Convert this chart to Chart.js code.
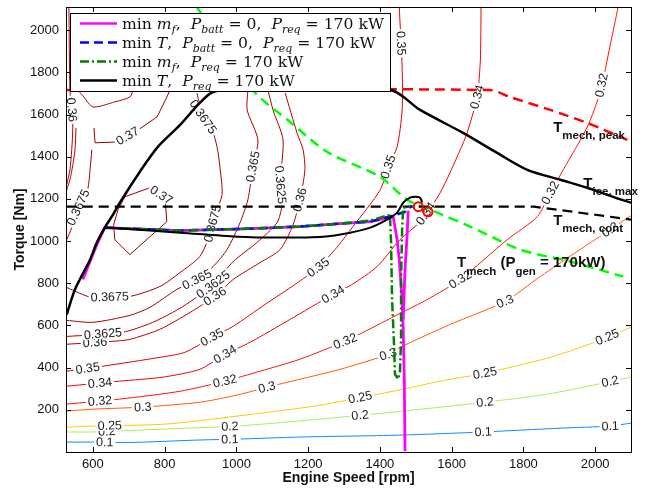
<!DOCTYPE html>
<html>
<head>
<meta charset="utf-8">
<script src="https://cdn.jsdelivr.net/npm/chart.js@4.4.0/dist/chart.umd.min.js"></script>
<style>
  html, body { margin: 0; padding: 0; background: #fff; }
  canvas { display: block; }
</style>
</head>
<body>
<canvas id="map" width="652" height="489"></canvas>
<script>
// axis ticks
const speedTicks = [600, 800, 1000, 1200, 1400, 1600, 1800, 2000];
const torqueTicks = [200, 400, 600, 800, 1000, 1200, 1400, 1600, 1800, 2000];

// efficiency contours, [rpm, Nm]
const eff_0100 = [[527,47],[600,47],[703,45],[898,57],[1002,61],[1177,71],[1456,80],[1688,95],[1903,113],[2042,123],[2100,137]];
const eff_0200 = [[527,95],[600,95],[800,109],[1000,123],[1233,156],[1465,194],[1693,236],[1866,274],[2006,321],[2100,355]];
const eff_0250 = [[527,118],[600,123],[800,132],[1000,170],[1233,222],[1465,298],[1568,336],[1693,374],[1875,449],[2006,525],[2100,591]];
const eff_0300 = [[527,194],[600,203],[739,213],[898,236],[1002,270],[1085,307],[1177,345],[1289,392],[1423,463],[1456,496],[1596,605],[1749,714],[1847,832],[1958,960],[2042,1054],[2100,1121]];
const eff_0320 = [[527,227],[675,251],[843,288],[968,336],[1066,383],[1177,440],[1303,525],[1353,567],[1456,657],[1532,723],[1624,818],[1755,1007],[1839,1116],[1875,1229],[1911,1338],[1978,1541],[2014,1707],[2042,1929],[2064,2109]];
const eff_0340 = [[527,312],[675,336],[795,355],[898,392],[968,463],[1038,520],[1150,629],[1269,747],[1322,794],[1392,879],[1456,1007],[1512,1092],[1568,1229],[1624,1433],[1643,1513],[1671,1683],[1680,1858],[1682,2109]];
const eff_0350 = [[527,383],[628,407],[787,449],[857,473],[932,544],[991,596],[1080,700],[1163,794],[1228,875],[1275,960],[1325,1069],[1401,1243],[1423,1352],[1448,1447],[1462,1622],[1462,1825],[1454,2109]];
const eff_0360 = [[527,511],[656,525],[703,534],[787,582],[871,662],[940,738],[991,818],[1066,898],[1122,960],[1158,1078],[1177,1196],[1191,1338],[1186,1433],[1169,1513],[1136,1702]];
const eff_0360L = [[527,1267],[536,1338],[541,1433],[544,1541],[541,1622],[536,1716],[533,2109]];
const eff_0360S = [[553,1537],[550,1433],[544,1362],[536,1291],[527,1243]];
const eff_03625 = [[527,548],[681,567],[767,615],[851,690],[935,794],[991,903],[1057,993],[1113,1087],[1127,1173],[1122,1281],[1130,1480],[1102,1622],[1088,1716]];
const eff_03625T = [[558,1716],[575,1683],[600,1636],[661,1660],[703,1683],[712,1716]];
const eff_0365 = [[527,624],[600,615],[703,648],[759,686],[834,771],[890,818],[935,879],[974,960],[1010,1087],[1032,1196],[1046,1352],[1060,1480],[1030,1622],[1032,1716]];
const eff_03675 = [[527,780],[597,733],[703,738],[787,785],[843,851],[898,927],[926,1031],[940,1125],[960,1220],[954,1352],[946,1447],[932,1527],[907,1589],[890,1702]];
const eff_03675L = [[527,1007],[541,1064],[555,1144],[572,1206],[586,1249],[592,1338],[597,1433]];
const eff_0370U = [[603,1537],[606,1466],[667,1470],[726,1527],[779,1589],[806,1683],[815,1716]];
const eff_0370I = [[689,1210],[759,1253],[801,1206],[806,1092],[703,936],[661,1007],[658,1078],[670,1149],[689,1210]];

// contour label spots: [text, line, rpm, Nm]
const contourLabels = [
  ['0.1', eff_0100, 633, 47], ['0.1', eff_0100, 982, 61], ['0.1', eff_0100, 1688, 95], ['0.1', eff_0100, 2042, 123],
  ['0.2', eff_0200, 639, 95], ['0.2', eff_0200, 982, 118], ['0.2', eff_0200, 1345, 170], ['0.2', eff_0200, 1693, 236], ['0.2', eff_0200, 2042, 331],
  ['0.25', eff_0250, 647, 125], ['0.25', eff_0250, 1345, 260], ['0.25', eff_0250, 1693, 374], ['0.25', eff_0250, 2034, 544],
  ['0.3', eff_0300, 739, 213], ['0.3', eff_0300, 1085, 307], ['0.3', eff_0300, 1423, 463], ['0.3', eff_0300, 1749, 714], ['0.3', eff_0300, 2042, 1054],
  ['0.32', eff_0320, 620, 241], ['0.32', eff_0320, 968, 336], ['0.32', eff_0320, 1303, 525], ['0.32', eff_0320, 1624, 818], ['0.32', eff_0320, 1875, 1229], ['0.32', eff_0320, 2014, 1740],
  ['0.34', eff_0340, 620, 326], ['0.34', eff_0340, 968, 463], ['0.34', eff_0340, 1269, 747], ['0.34', eff_0340, 1532, 1125], ['0.34', eff_0340, 1671, 1683],
  ['0.35', eff_0350, 586, 392], ['0.35', eff_0350, 932, 544], ['0.35', eff_0350, 1228, 875], ['0.35', eff_0350, 1423, 1352], ['0.35', eff_0350, 1462, 1938],
  ['0.36', eff_0360, 606, 511], ['0.36', eff_0360, 940, 738], ['0.36', eff_0360, 1177, 1196], ['0.36', eff_0360L, 536, 1622],
  ['0.3625', eff_03625, 628, 558], ['0.3625', eff_03625, 935, 794], ['0.3625', eff_03625, 1124, 1267],
  ['0.365', eff_0365, 890, 818], ['0.365', eff_0365, 1049, 1352],
  ['0.3675', eff_03675, 647, 733], ['0.3675', eff_03675, 926, 1087], ['0.3675', eff_03675, 907, 1589], ['0.3675', eff_03675L, 555, 1163],
  ['0.37', eff_0370I, 795, 1229], ['0.37', eff_0370U, 698, 1494]
];

const contourSet = [
  ['0.1', eff_0100], ['0.2', eff_0200], ['0.25', eff_0250], ['0.3', eff_0300], ['0.32', eff_0320],
  ['0.34', eff_0340], ['0.35', eff_0350], ['0.36', eff_0360], ['0.36', eff_0360L], ['0.36', eff_0360S],
  ['0.3625', eff_03625], ['0.3625', eff_03625T], ['0.365', eff_0365], ['0.3675', eff_03675],
  ['0.3675', eff_03675L], ['0.37', eff_0370U], ['0.37', eff_0370I]
];

// limit curves
const iceMaxTorque = [[527,652],[550,771],[592,912],[611,993],[633,1064],[656,1125],[675,1182],[731,1329],[781,1447],[843,1551],[898,1655],[935,1707],[1000,1716],[1428,1716],[1512,1622],[1632,1513],[1727,1418],[1811,1338],[1903,1291],[1978,1253],[2050,1210],[2100,1182]];
const mechPeakTorque = [[527,1716],[1707,1716],[1763,1683],[1875,1622],[1978,1560],[2090,1480]];
const mechContTorque = [[527,1163],[1830,1163],[1900,1148],[2000,1125],[2100,1102]];
const mechGenTorque = [[890,2109],[1046,1716],[1150,1565],[1253,1423],[1400,1305],[1476,1196],[1540,1149],[1652,1069],[1791,960],[1931,903],[2078,832]];

// optimal operating lines
const minFuelBatt0 = [[572,818],[592,903],[611,983],[633,1064],[843,1050],[1038,1059],[1177,1069],[1289,1083],[1373,1092],[1437,1116],[1448,1007],[1454,912],[1462,723],[1465,582],[1468,345],[1470,5]];
const minFuelBatt0b = [[1479,1144],[1476,1031],[1470,865],[1465,629]];
const minTorqueBatt0 = [[633,1064],[843,1050],[1038,1059],[1177,1069],[1289,1083],[1373,1092],[1437,1121],[1470,1139],[1490,1168]];
const minFuelReq = [[633,1064],[843,1050],[1038,1059],[1177,1069],[1289,1083],[1373,1097],[1428,1125],[1431,1007],[1434,723],[1440,487],[1442,369],[1451,345],[1456,383],[1459,534],[1459,818],[1462,1054],[1465,1158],[1484,1163]];
const minTorqueReq = [[633,1064],[843,1040],[1002,1021],[1122,1017],[1242,1021],[1317,1040],[1373,1064],[1420,1102],[1448,1135],[1465,1182],[1484,1206],[1498,1210],[1512,1206],[1518,1182]];
const optimumPoints = [[1507,1163],[1534,1139]];

// annotation anchors [rpm, Nm]
const noteAnchors = { peak: [1883,1518], ice: [1967,1253], cont: [1883,1078], gen: [1615,879] };

const levelColor = {
  '0.1': '#0a8cff', '0.2': '#a6ec62', '0.25': '#ffc800', '0.3': '#ff5a00', '0.32': '#ff1400',
  '0.34': '#f20000', '0.35': '#e00000', '0.36': '#b80000', '0.3625': '#ac0000', '0.365': '#a40000',
  '0.3675': '#9c0000', '0.37': '#940000'
};

const xy = pts => pts.map(p => ({ x: p[0], y: p[1] }));

function line(pts, color, width, dash, tension) {
  return {
    data: xy(pts), showLine: true, pointRadius: 0, pointHoverRadius: 0,
    borderColor: color, borderWidth: width, borderDash: dash || [],
    tension: tension || 0, fill: false
  };
}

const datasets = [
  { data: xy(optimumPoints), showLine: false, pointRadius: 4.5, pointBorderWidth: 2,
    pointBorderColor: '#ff0000', pointBackgroundColor: 'rgba(0,0,0,0)' },
  line(iceMaxTorque, '#000', 2.5, null, 0.3),
  line(minTorqueReq, '#000', 2, null, 0.3),
  line(minFuelReq, '#008000', 2.5, [9, 3, 2, 3]),
  line(minTorqueBatt0, '#0000ff', 2.5, [9, 5]),
  line(minFuelBatt0, '#ff00ff', 2.8),
  line(minFuelBatt0b, '#ff00ff', 2.8),
  line(mechPeakTorque, '#ff0000', 2.5, [10, 6], 0.3),
  line(mechContTorque, '#000', 2.2, [10, 6]),
  line(mechGenTorque, '#00ff00', 2.5, [10, 6], 0.3)
];
const firstContour = datasets.length;
contourSet.forEach(([lvl, pts]) => {
  datasets.push(line(pts, levelColor[lvl], 1, null, lvl === '0.37' ? 0 : 0.25));
});

function drawContourLabels(chart) {
  const ctx = chart.ctx, xs = chart.scales.x, ys = chart.scales.y, a = chart.chartArea;
  ctx.save();
  ctx.beginPath();
  ctx.rect(a.left, a.top, a.right - a.left, a.bottom - a.top);
  ctx.clip();
  ctx.font = '12.5px "Liberation Sans", Arial, sans-serif';
  ctx.textAlign = 'center';
  ctx.textBaseline = 'middle';
  contourLabels.forEach(([txt, pts, rpm, nm]) => {
    const px = xs.getPixelForValue(rpm), py = ys.getPixelForValue(nm);
    const pp = pts.map(p => [xs.getPixelForValue(p[0]), ys.getPixelForValue(p[1])]);
    let best = null;
    for (let i = 0; i < pp.length - 1; i++) {
      const [x1, y1] = pp[i], [x2, y2] = pp[i + 1];
      const dx = x2 - x1, dy = y2 - y1, L = dx * dx + dy * dy;
      let t = L ? ((px - x1) * dx + (py - y1) * dy) / L : 0;
      t = Math.max(0, Math.min(1, t));
      const qx = x1 + t * dx, qy = y1 + t * dy;
      const d = (qx - px) ** 2 + (qy - py) ** 2;
      if (!best || d < best.d) best = { d, qx, qy, ang: Math.atan2(dy, dx) };
    }
    let ang = best.ang;
    if (ang > Math.PI / 2) ang -= Math.PI;
    if (ang < -Math.PI / 2) ang += Math.PI;
    const w = ctx.measureText(txt).width;
    ctx.save();
    ctx.translate(best.qx, best.qy);
    ctx.rotate(ang);
    ctx.fillStyle = '#fff';
    ctx.fillRect(-w / 2 - 2, -5, w + 4, 10);
    ctx.fillStyle = '#1a1a1a';
    ctx.fillText(txt, 0, 0.5);
    ctx.restore();
  });
  ctx.restore();
}

function drawRuns(ctx, x, y, runs, dry) {
  let cx = x;
  runs.forEach(r => {
    ctx.font = r.font;
    if (!dry) ctx.fillText(r.t, cx, y + (r.dy || 0));
    cx += ctx.measureText(r.t).width;
  });
  return cx - x;
}

const bold = s => '700 ' + s + 'px "Liberation Sans", Arial, sans-serif';
const notes = {
  peak: [{ t: 'T', font: bold(15) }, { t: 'mech, peak', font: bold(11.5), dy: 7.5 }],
  ice: [{ t: 'T', font: bold(15) }, { t: 'ice, max', font: bold(11.5), dy: 7 }],
  cont: [{ t: 'T', font: bold(15) }, { t: 'mech, cont', font: bold(11.5), dy: 7.5 }],
  gen: [{ t: 'T', font: bold(15) }, { t: 'mech', font: bold(11.5), dy: 8 }, { t: ' (P', font: bold(15) },
        { t: 'gen', font: bold(11.5), dy: 8 }, { t: ' = 170kW)', font: bold(15) }]
};

const serif = '"DejaVu Serif", "Liberation Serif", serif';
const R = s => ({ t: s, font: '15px ' + serif });
const I = s => ({ t: s, font: 'italic 15px ' + serif });
const S = s => ({ t: s, font: 'italic 10.5px ' + serif, dy: 4 });
const legendRows = [
  { color: '#ff00ff', dash: [], runs: [R('min '), I('m'), S('f'), R(',  '), I('P'), S('batt'), R(' = 0,  '), I('P'), S('req'), R(' = 170 kW')] },
  { color: '#0000ff', dash: [9, 5], runs: [R('min '), I('T'), R(',  '), I('P'), S('batt'), R(' = 0,  '), I('P'), S('req'), R(' = 170 kW')] },
  { color: '#008000', dash: [9, 3, 2, 3], runs: [R('min '), I('m'), S('f'), R(',  '), I('P'), S('req'), R(' = 170 kW')] },
  { color: '#000000', dash: [], runs: [R('min '), I('T'), R(',  '), I('P'), S('req'), R(' = 170 kW')] }
];

const overlayPlugin = {
  id: 'overlay',
  afterDatasetDraw(chart, args) {
    if (args.index === firstContour) drawContourLabels(chart);
  },
  afterDraw(chart) {
    const ctx = chart.ctx, a = chart.chartArea, xs = chart.scales.x, ys = chart.scales.y;
    ctx.save();
    // annotations
    ctx.fillStyle = '#111';
    ctx.textAlign = 'left';
    ctx.textBaseline = 'alphabetic';
    Object.keys(notes).forEach(k => {
      const [r, n] = noteAnchors[k];
      drawRuns(ctx, xs.getPixelForValue(r), ys.getPixelForValue(n), notes[k]);
    });
    // box and inward ticks
    ctx.strokeStyle = '#000';
    ctx.lineWidth = 1;
    ctx.strokeRect(a.left + 0.5, a.top + 0.5, a.right - a.left, a.bottom - a.top);
    ctx.beginPath();
    speedTicks.forEach(v => {
      const x = Math.round(xs.getPixelForValue(v)) + 0.5;
      ctx.moveTo(x, a.bottom); ctx.lineTo(x, a.bottom - 5);
      ctx.moveTo(x, a.top); ctx.lineTo(x, a.top + 5);
    });
    torqueTicks.forEach(v => {
      const y = Math.round(ys.getPixelForValue(v)) + 0.5;
      ctx.moveTo(a.left, y); ctx.lineTo(a.left + 5, y);
      ctx.moveTo(a.right, y); ctx.lineTo(a.right - 5, y);
    });
    ctx.stroke();
    // legend
    const lx = a.left + 4, ly = a.top + 6, lw = 320, lh = 78;
    ctx.fillStyle = '#fff';
    ctx.fillRect(lx, ly, lw, lh + 1);
    ctx.strokeRect(lx + 0.5, ly + 0.5, lw, lh);
    const w1 = drawRuns(ctx, 0, 0, legendRows[0].runs, true);
    const sx = 262 / w1;
    legendRows.forEach((row, i) => {
      const cy = ly + 10.5 + i * 19;
      ctx.beginPath();
      ctx.setLineDash(row.dash);
      ctx.strokeStyle = row.color;
      ctx.lineWidth = 2.5;
      ctx.moveTo(lx + 10, cy); ctx.lineTo(lx + 47, cy);
      ctx.stroke();
      ctx.setLineDash([]);
      ctx.save();
      ctx.translate(lx + 52, cy + 5);
      ctx.scale(sx, 1);
      ctx.fillStyle = '#111';
      drawRuns(ctx, 0, 0, row.runs);
      ctx.restore();
    });
    ctx.restore();
  }
};

Chart.defaults.font.family = '"Liberation Sans", Arial, sans-serif';
Chart.defaults.color = '#111';

new Chart(document.getElementById('map'), {
  type: 'scatter',
  data: { datasets: datasets },
  options: {
    responsive: false,
    animation: false,
    events: [],
    layout: { padding: { left: 0, right: 21, top: 7, bottom: 0 } },
    plugins: { legend: { display: false }, tooltip: { enabled: false } },
    scales: {
      x: {
        type: 'linear', min: 525, max: 2100,
        afterBuildTicks: ax => { ax.ticks = speedTicks.map(v => ({ value: v })); },
        afterFit: ax => { ax.height = 37; ax.paddingLeft = 0; ax.paddingRight = 0; },
        grid: { display: false, drawTicks: false },
        border: { display: false },
        ticks: { padding: 5, font: { size: 13 }, maxRotation: 0, autoSkip: false, callback: v => String(v) },
        title: { display: true, text: 'Engine Speed [rpm]', font: { size: 14, weight: 'bold' }, padding: 2 }
      },
      y: {
        type: 'linear', min: 0, max: 2110,
        afterBuildTicks: ax => { ax.ticks = torqueTicks.map(v => ({ value: v })); },
        afterFit: ax => { ax.width = 66; ax.paddingTop = 0; ax.paddingBottom = 0; },
        grid: { display: false, drawTicks: false },
        border: { display: false },
        ticks: { padding: 7, font: { size: 13 }, autoSkip: false, callback: v => String(v) },
        title: { display: true, text: 'Torque [Nm]', font: { size: 14, weight: 'bold' }, padding: 12 }
      }
    }
  },
  plugins: [overlayPlugin]
});
</script>
</body>
</html>
